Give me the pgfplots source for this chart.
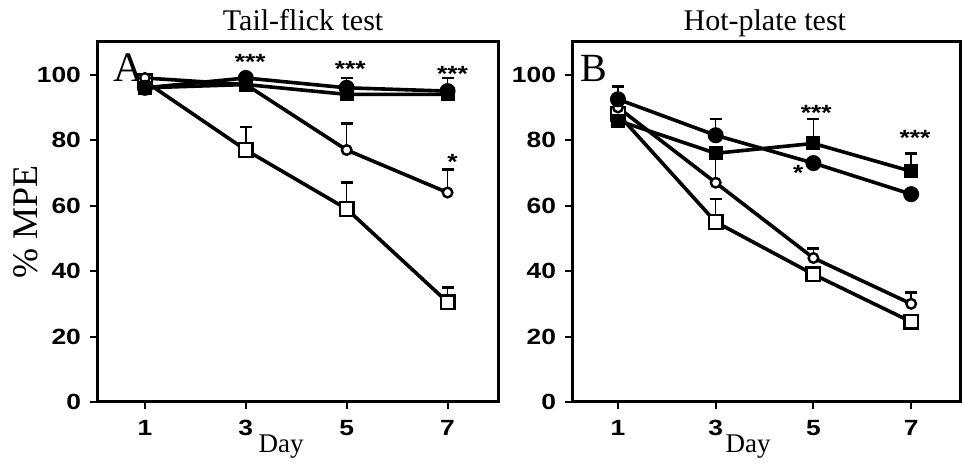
\documentclass[border=0pt]{standalone}
\usepackage{pgfplots}
\pgfplotsset{compat=1.18}
\usepackage{fontspec}
\setmainfont{Liberation Serif}
\newfontfamily\tickfont[FakeStretch=1.2]{Liberation Sans}

\tikzset{
  star/.style={font=\tickfont\bfseries\fontsize{11}{11}\selectfont, yshift=-2.5pt, inner sep=0pt},
  ttl/.style={anchor=base, font=\fontsize{15}{15}\selectfont, inner sep=0pt, yshift=5.5pt},
  dlab/.style={anchor=base, font=\fontsize{13.5}{14}\selectfont, inner sep=0pt, yshift=-25.5pt},
}
\pgfplotsset{
  panel/.style={
    scale only axis, height=180pt,
    ymin=0, ymax=110,
    xtick={1,3,5,7}, ytick={0,20,40,60,80,100},
    tick align=outside, xtick pos=left, ytick pos=left,
    major tick length=3.5pt,
    tick style={line width=1pt,black},
    axis line style={line width=1.5pt},
    ticklabel style={font=\tickfont\bfseries\fontsize{11}{11}\selectfont},
    /pgf/number format/assume math mode=true,
    xticklabel style={yshift=-2pt},
    yticklabel style={xshift=-1pt},
    clip=false,
  },
  ser/.style={black, line width=1.8pt,
    error bars/y dir=plus, error bars/y explicit,
    error bars/error bar style={line width=0.8pt, black, solid},
    error bars/error mark options={rotate=90, line width=1.4pt, mark size=3pt, black}},
  fc/.style={ser, mark=*, mark size=3.75pt, mark options={solid, fill=black, line width=0.5pt}},
  fs/.style={ser, mark=square*, mark size=3.25pt, mark options={solid, fill=black, line width=0.5pt}},
  oc/.style={ser, mark=*, mark size=2.4pt, mark options={solid, fill=white, line width=1.2pt}},
  os/.style={ser, mark=square*, mark size=3.4pt, mark options={solid, fill=white, line width=1.2pt}},
}

\pgfplotstableread{
x y e
1 98 0
3 77 7
5 59 8
7 30.5 4.5
}\Aos
\pgfplotstableread{
x y e
1 99 0
3 97 0
5 77 8
7 64 7
}\Aoc
\pgfplotstableread{
x y e
1 96 0
3 97 0
5 94 0
7 94 0
}\Afs
\pgfplotstableread{
x y e
1 96 0
3 99 0
5 96 3
7 95 4
}\Afc

\pgfplotstableread{
x y e
1 88 0
3 55 7
5 39 0
7 24.5 0
}\Bos
\pgfplotstableread{
x y e
1 90 0
3 67 9
5 44 3
7 30 3.5
}\Boc
\pgfplotstableread{
x y e
1 86 0
3 76 0
5 79 7.5
7 70.5 5.5
}\Bfs
\pgfplotstableread{
x y e
1 92.5 4
3 81.5 5
5 73 0
7 63.5 0
}\Bfc

\begin{document}
\begin{tikzpicture}
\useasboundingbox (0,0) rectangle (481pt,235pt);
\begin{axis}[panel, at={(48.5pt,34pt)}, anchor=south west,
  width=200.5pt, xmin=0.05, xmax=8,
  ylabel={\% MPE},
  ylabel style={font=\fontsize{18}{18}\selectfont, at={(axis description cs:-0.178,0.5)}, anchor=center},
]
\addplot[os] table[x=x,y=y,y error=e] {\Aos};
\addplot[oc] table[x=x,y=y,y error=e] {\Aoc};
\addplot[fs] table[x=x,y=y,y error=e] {\Afs};
\addplot[fc] table[x=x,y=y,y error=e] {\Afc};
\node[ttl] at (axis description cs:0.514,1) {Tail-flick test};
\node[dlab] at (axis description cs:0.459,0) {Day};
\node[anchor=base west, font=\fontsize{21}{21}\selectfont, inner sep=0pt] at (axis description cs:0.04,0.889) {A};
\node[star] at (axis cs:3.09,105.3) {***};
\node[star] at (axis cs:5.07,103.2) {***};
\node[star] at (axis cs:7.1,101.9) {***};
\node[star] at (axis cs:7.1,74.9) {*};
\end{axis}

\begin{axis}[panel, at={(286pt,34pt)}, anchor=south west,
  width=194pt, xmin=0.06, xmax=8,
]
\addplot[os] table[x=x,y=y,y error=e] {\Bos};
\addplot[oc] table[x=x,y=y,y error=e] {\Boc};
\addplot[fs] table[x=x,y=y,y error=e] {\Bfs};
\addplot[fc] table[x=x,y=y,y error=e] {\Bfc};
\node[ttl] at (axis description cs:0.497,1) {Hot-plate test};
\node[dlab] at (axis description cs:0.454,0) {Day};
\node[anchor=base west, font=\fontsize{20}{20}\selectfont, inner sep=0pt] at (axis description cs:0.021,0.889) {B};
\node[star] at (axis cs:5.06,89.9) {***};
\node[star] at (axis cs:4.69,71.6) {*};
\node[star] at (axis cs:7.08,82.1) {***};
\end{axis}
\end{tikzpicture}
\end{document}
